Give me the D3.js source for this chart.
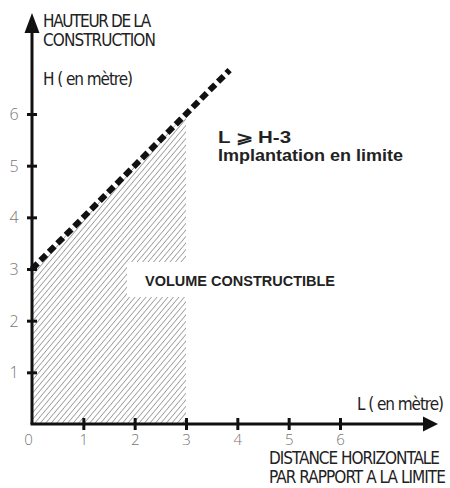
<!DOCTYPE html>
<html>
<head>
<meta charset="utf-8">
<script src="https://cdn.jsdelivr.net/npm/d3@7"></script>
<style>
  html, body { margin: 0; padding: 0; background: #fff; }
  svg { display: block; }
</style>
</head>
<body>
<div id="chart"></div>
<script>
// ---- data ----
const xTicks = [0, 1, 2, 3, 4, 5, 6];
const yTicks = [1, 2, 3, 4, 5, 6];
const limitLine = [[0, 3], [3.85, 6.85]];           // H = L + 3
const buildable = [[0, 0], [0, 3], [3, 6], [3, 0]]; // hatched volume
const yTitle = ["HAUTEUR DE LA", "CONSTRUCTION"];
const yUnit = "H ( en mètre)";
const xUnit = "L ( en mètre)";
const xTitle = ["DISTANCE HORIZONTALE", "PAR RAPPORT A LA LIMITE"];
const ruleText = ["L \u2A7E H-3", "Implantation en limite"];
const volumeText = "VOLUME CONSTRUCTIBLE";

const W = 450, H = 488;
const svg = d3.select("#chart").append("svg").attr("width", W).attr("height", H);

const x = d3.scaleLinear().domain([0, 6]).range([32, 340]);
const y = d3.scaleLinear().domain([0, 6]).range([424, 114]);

const defs = svg.append("defs");
const pat = defs.append("pattern")
  .attr("id", "hatch").attr("patternUnits", "userSpaceOnUse")
  .attr("width", 4.2).attr("height", 4.2)
  .attr("patternTransform", "rotate(40)");
pat.append("line").attr("x1", 0).attr("y1", 0).attr("x2", 0).attr("y2", 4.2)
  .attr("stroke", "#555").attr("stroke-width", 1);

const line = d3.line().x(d => x(d[0])).y(d => y(d[1]));

// hatched region
svg.append("path").datum(buildable)
  .attr("d", d => line(d) + "Z")
  .attr("fill", "url(#hatch)").attr("stroke", "none");

// white box behind label
svg.append("rect").attr("x", 127).attr("y", 262).attr("width", 215).attr("height", 35).attr("fill", "#fff");

// dashed limit line
svg.append("path").datum(limitLine).attr("d", line)
  .attr("fill", "none").attr("stroke", "#111").attr("stroke-width", 6)
  .attr("stroke-dasharray", "8,4");

// axes
const axisColor = "#111";
svg.append("line").attr("x1", x(0)).attr("y1", y(0)).attr("x2", x(0)).attr("y2", 30)
  .attr("stroke", axisColor).attr("stroke-width", 3);
svg.append("path").attr("d", `M${x(0)},13 L${x(0)-7.5},33 L${x(0)+7.5},33 Z`).attr("fill", axisColor);
svg.append("line").attr("x1", x(0) - 1.5).attr("y1", y(0)).attr("x2", 426).attr("y2", y(0))
  .attr("stroke", axisColor).attr("stroke-width", 3);
svg.append("path").attr("d", `M438,${y(0)} L423,${y(0)-7.5} L423,${y(0)+7.5} Z`).attr("fill", axisColor);

const xAxis = svg.append("g").attr("transform", `translate(0,${y(0)})`)
  .call(d3.axisBottom(x).tickValues(xTicks).tickSize(0).tickFormat(d3.format("d")));
xAxis.select(".domain").remove();
xAxis.selectAll(".tick").filter(d => d > 0).append("line")
  .attr("y1", -6).attr("y2", 6).attr("stroke", axisColor).attr("stroke-width", 3);
xAxis.selectAll("text").attr("dy", null).attr("y", 21)
  .attr("dx", d => d === 0 ? -4 : 0)
  .attr("font-family", "'Open Sans', sans-serif").attr("font-weight", 300)
  .attr("font-size", 15).attr("fill", "#777");

const yAxis = svg.append("g").attr("transform", `translate(${x(0)},0)`)
  .call(d3.axisLeft(y).tickValues(yTicks).tickSize(0).tickFormat(d3.format("d")));
yAxis.select(".domain").remove();
yAxis.selectAll(".tick").append("line")
  .attr("x1", -5).attr("x2", 5).attr("stroke", axisColor).attr("stroke-width", 3);
yAxis.selectAll("text").attr("x", -18).attr("text-anchor", "middle").attr("dy", "0.35em")
  .attr("font-family", "'Open Sans', sans-serif").attr("font-weight", 300)
  .attr("font-size", 16).attr("fill", "#777");

// fit text width by tightening letter spacing
function fit(sel, target) {
  sel.each(function(d, i) {
    const t = typeof target === "function" ? target(d, i) : target;
    const n = this.textContent.length;
    const nat = this.getComputedTextLength();
    if (nat > t) d3.select(this).attr("letter-spacing", ((t - nat) / n).toFixed(2) + "px");
  });
}

// titles
const hand = "'Liberation Sans Narrow', 'DejaVu Sans Condensed', sans-serif";
svg.selectAll(".ytitle").data(yTitle).join("text")
  .attr("x", 43).attr("y", (d, i) => 27 + i * 19)
  .attr("font-family", hand).attr("font-size", 17).attr("fill", "#222")
  .text(d => d).call(fit, (d, i) => i === 0 ? 107 : 112);

svg.append("text").attr("x", 43).attr("y", 85)
  .attr("font-family", hand).attr("font-size", 17).attr("fill", "#222")
  .text(yUnit).call(fit, 89);

svg.append("text").attr("x", 357).attr("y", 410)
  .attr("font-family", hand).attr("font-size", 17).attr("fill", "#222")
  .text(xUnit).call(fit, 86);

svg.selectAll(".xtitle").data(xTitle).join("text")
  .attr("x", 269).attr("y", (d, i) => 464 + i * 19)
  .attr("font-family", hand).attr("font-size", 17).attr("fill", "#222")
  .text(d => d).call(fit, (d, i) => i === 0 ? 170 : 176);

// rule text
svg.selectAll(".rule").data(ruleText).join("text")
  .attr("x", 218).attr("y", (d, i) => 143 + i * 18)
  .attr("font-family", "'Liberation Sans', Arial, sans-serif").attr("font-weight", "bold")
  .attr("font-size", 16).attr("fill", "#222")
  .attr("textLength", (d, i) => i === 0 ? 73 : 185).attr("lengthAdjust", "spacingAndGlyphs")
  .text(d => d);

svg.append("text").attr("x", 145).attr("y", 286)
  .attr("font-family", "'Liberation Sans', Arial, sans-serif").attr("font-weight", "bold")
  .attr("font-size", 14).attr("fill", "#222")
  .attr("textLength", 190).attr("lengthAdjust", "spacingAndGlyphs")
  .text(volumeText);
</script>
</body>
</html>
